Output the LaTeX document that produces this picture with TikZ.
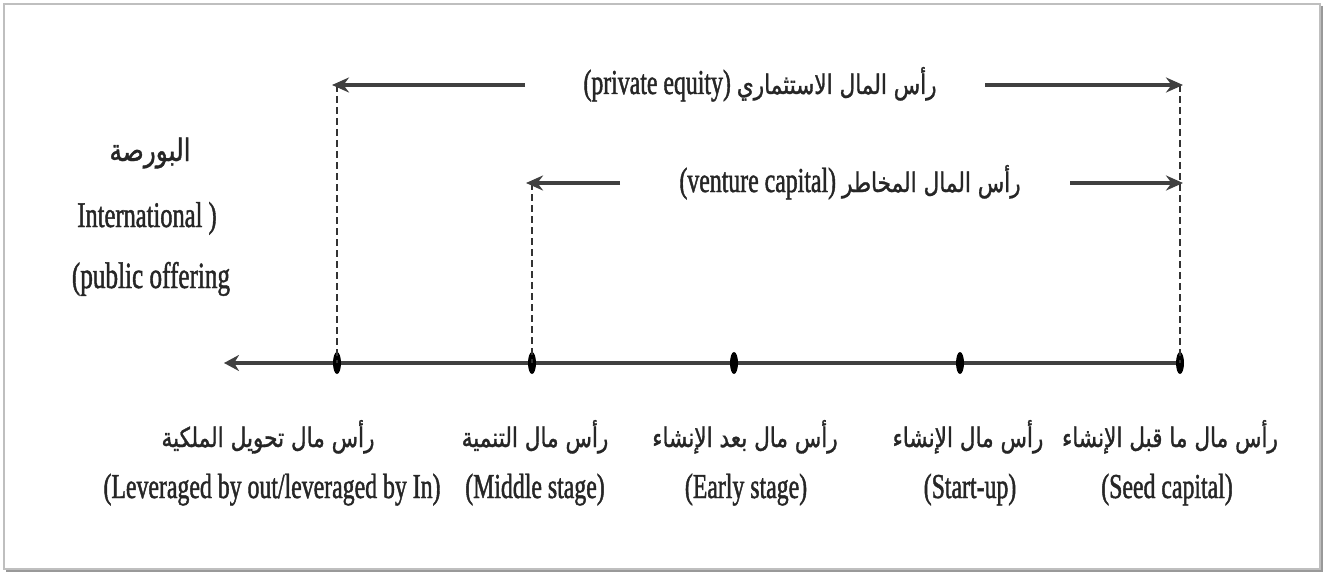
\documentclass[tikz,border=0pt]{standalone}
\usepackage{fontspec}
\usetikzlibrary{arrows.meta}
\setmainfont[FakeStretch=0.68,FakeBold=1.2]{Liberation Serif}
\newfontfamily\arabicfont[Script=Arabic,FakeStretch=0.8,FakeBold=1.2]{DejaVu Sans}
\TeXXeTstate=1
\newcommand{\ar}[1]{{\arabicfont\beginR #1\endR}}
\tikzset{
  lat/.style={inner sep=0pt, anchor=base, font=\fontsize{35}{40}\selectfont, text=black!85},
  arb/.style={inner sep=0pt, anchor=base, font=\fontsize{27}{32}\arabicfont, text=black!85},
  axisline/.style={line width=3.5pt, draw=black!75},
  spanarrow/.style={line width=3.2pt, draw=black!75, -{Stealth[length=17pt,width=15pt]}},
  guide/.style={line width=1.6pt, draw=black!80, dash pattern=on 7pt off 4pt},
}
\begin{document}
\begin{tikzpicture}[x=1pt,y=-1pt]
\useasboundingbox (0,0) rectangle (1325,575);
% frame
\fill[white] (0,0) rectangle (1325,575);
\draw[black!25, line width=2pt] (4,4) rectangle (1320,569);
\draw[black!40, line width=2pt] (1322,6) -- (1322,571) -- (6,571);

% axis points
\coordinate (pL) at (224,363);
\coordinate (p1) at (337,363);
\coordinate (p2) at (532,363);
\coordinate (p3) at (734,363);
\coordinate (p4) at (960,363);
\coordinate (p5) at (1180,363);

\draw[axisline, -{Stealth[length=15pt,width=16pt]}] (p5) -- (pL);
\foreach \p in {p1,p2,p3,p4,p5} \fill[black] (\p) ellipse (4pt and 11pt);

% top spans
\coordinate (peL) at (332,85);
\coordinate (peLs) at (525,85);
\coordinate (peR) at (1183,85);
\coordinate (peRs) at (985,85);
\coordinate (pe1) at (337,85);
\coordinate (pe5) at (1180,85);
\coordinate (vcL) at (526,183);
\coordinate (vcLs) at (620,183);
\coordinate (vcR) at (1183,183);
\coordinate (vcRs) at (1070,183);
\coordinate (vc2) at (532,183);
\coordinate (vc5) at (1180,183);

\draw[guide] (pe1) -- (p1);
\draw[guide] (pe5) -- (p5);
\draw[guide] (vc2) -- (p2);

\draw[spanarrow] (peLs) -- (peL);
\draw[spanarrow] (peRs) -- (peR);
\draw[spanarrow] (vcLs) -- (vcL);
\draw[spanarrow] (vcRs) -- (vcR);

\node[lat] (pe) at (760,94) {(private equity) \ar{\fontsize{27}{32}\selectfont رأس المال الاستثماري}};
\node[lat] (vc) at (850,192) {(venture capital) \ar{\fontsize{27}{32}\selectfont رأس المال المخاطر}};

% left text
\node[arb, font=\fontsize{31}{36}\arabicfont] (bo) at (150,161) {\ar{البورصة}};
\node[lat, font=\fontsize{36}{40}\selectfont] (intl) at (147,227) {International )};
\node[lat, font=\fontsize{37}{40}\selectfont] (pub) at (151,288) {(public offering};

% bottom labels
\node[arb] (a1) at (268,447) {\ar{رأس مال تحويل الملكية}};
\node[lat] (e1) at (272,498) {(Leveraged by out/leveraged by In)};
\node[arb] (a2) at (535,447) {\ar{رأس مال التنمية}};
\node[lat] (e2) at (535,498) {(Middle stage)};
\node[arb] (a3) at (745,447) {\ar{رأس مال بعد الإنشاء}};
\node[lat] (e3) at (746,498) {(Early stage)};
\node[arb] (a4) at (968,447) {\ar{رأس مال الإنشاء}};
\node[lat] (e4) at (970,498) {(Start-up)};
\node[arb] (a5) at (1170,447) {\ar{رأس مال ما قبل الإنشاء}};
\node[lat] (e5) at (1167,498) {(Seed capital)};
\end{tikzpicture}
\end{document}
